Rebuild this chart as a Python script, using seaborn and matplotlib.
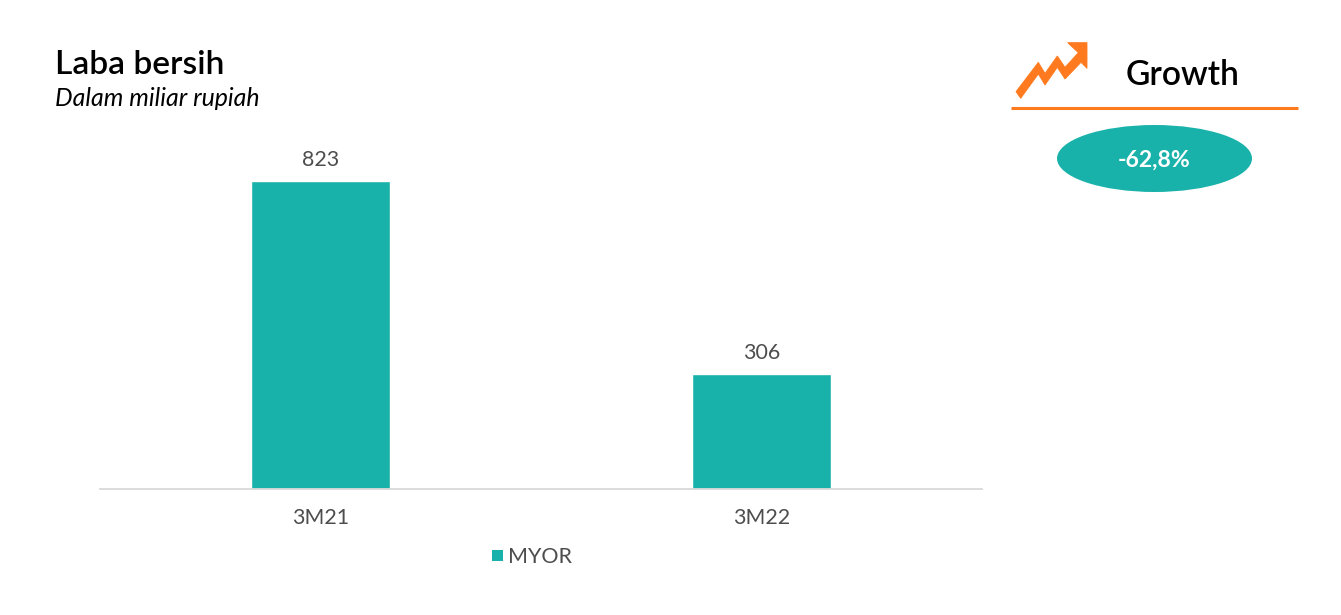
"""Laba bersih MYOR bar chart with a growth badge on the right."""

import matplotlib
matplotlib.use("Agg")
import matplotlib.pyplot as plt
import pandas as pd
import seaborn as sns
from matplotlib.patches import Ellipse, Polygon, Rectangle

periods = ["3M21", "3M22"]
laba_bersih = [823, 306]
series_name = "MYOR"
growth_label = "-62,8%"

TEAL = "#19b2aa"
ORANGE = "#ff7a1f"
GREY = "#4d4d4d"

W, H = 1341, 615


def px_axes(fig):  # Overlay axes in reference pixels, for the decoration.
    ov = fig.add_axes([0, 0, 1, 1], zorder=5)
    ov.set_xlim(0, W)
    ov.set_ylim(H, 0)
    ov.axis("off")
    return ov


def main():
    sns.set_theme(style="white")
    plt.rcParams["font.family"] = ["Lato", "DejaVu Sans"]
    fig = plt.figure(figsize=(W / 100, H / 100), dpi=100)
    ax = fig.add_axes([100 / W, 1 - 488.5 / H, 882 / W, 388.5 / H])

    df = pd.DataFrame({"period": periods, "laba": laba_bersih})
    sns.barplot(data=df, x="period", y="laba", color=TEAL, saturation=1, width=0.314, ax=ax)
    ax.set_xlim(-0.5, 1.5)
    ax.set_ylim(0, 1041)
    ax.set_xlabel("")
    ax.set_ylabel("")
    ax.set_yticks([])
    ax.tick_params(axis="x", length=0, pad=14, labelsize=15.4, labelcolor=GREY)
    sns.despine(ax=ax, left=True)
    ax.spines["bottom"].set_color("#d9d9d9")
    ax.spines["bottom"].set_linewidth(1.3)
    ax.bar_label(ax.containers[0], labels=[str(v) for v in laba_bersih], padding=8, fontsize=15.4, color=GREY)

    ov = px_axes(fig)
    ov.text(55.5, 65, "Laba bersih", fontsize=24.1, fontweight="semibold", color="black", va="center", ha="left")
    ov.text(55.5, 98, "Dalam miliar rupiah", fontsize=17.9, style="italic", color="black", va="center", ha="left")

    # legend
    ov.add_patch(Rectangle((492, 550), 11, 11, color=TEAL, lw=0))
    ov.text(508, 557, series_name, fontsize=15.5, color=GREY, va="center", ha="left")

    # growth panel
    ov.text(1183, 75, "Growth", fontsize=24.2, fontweight="semibold", color="black", va="center", ha="center")
    ov.plot([1011, 1298], [108, 108], color=ORANGE, lw=2.2, solid_capstyle="butt")
    ov.add_patch(Ellipse((1154.5, 158.5), 195, 67, color=TEAL, lw=0))
    ov.text(1154, 160, growth_label, fontsize=16.6, fontweight="bold", color="white", va="center", ha="center")

    icon = [(48, 185), (115, 97), (135, 130), (172, 78), (195, 112), (235, 68), (203, 38), (261, 38),
            (261, 115), (243, 97), (195, 147), (172, 112), (135, 165), (115, 132), (62, 205)]
    ov.add_patch(Polygon([(1000 + x / 3, 30 + y / 3) for x, y in icon], closed=True, color=ORANGE, ec=ORANGE, lw=0.6))

    fig.savefig("out.png", dpi=100, facecolor="white")
    plt.close(fig)


if __name__ == "__main__":
    main()
